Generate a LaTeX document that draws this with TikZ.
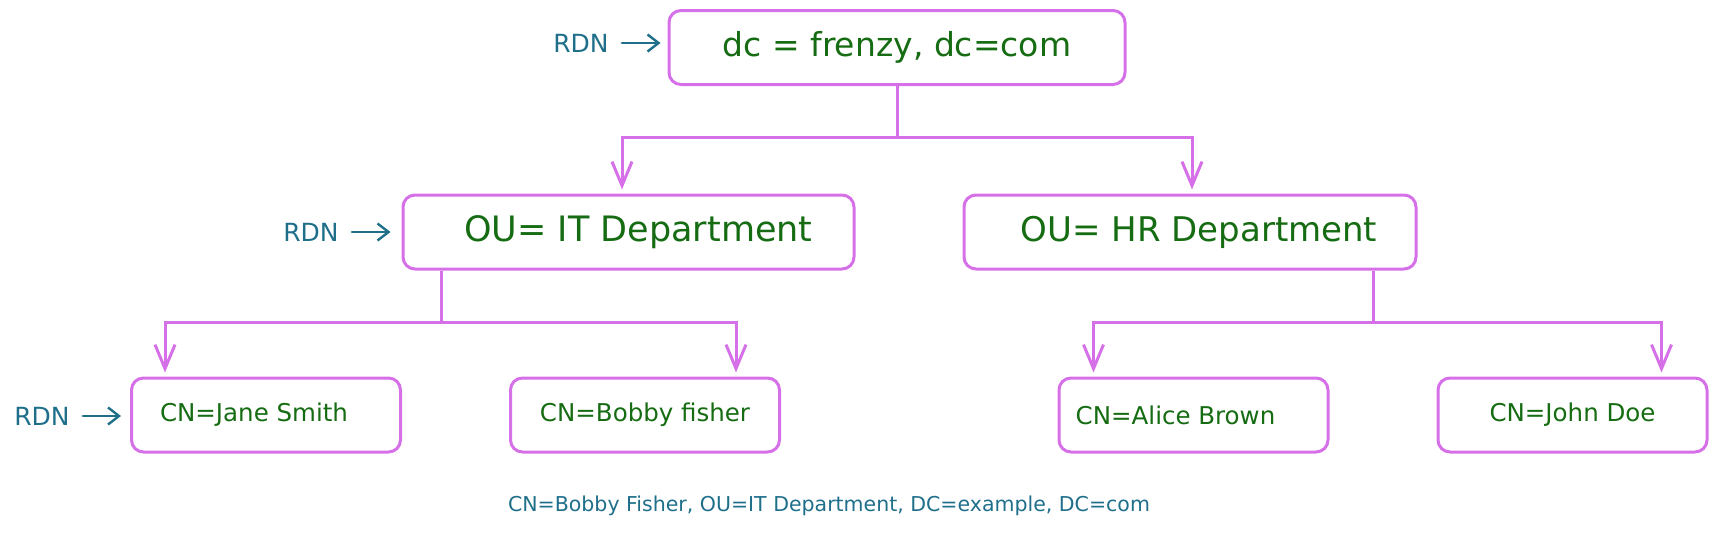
\documentclass[tikz,border=0pt]{standalone}
\usepackage{fontspec}
\setmainfont{DejaVu Sans}
\usetikzlibrary{arrows.meta}
\definecolor{vio}{RGB}{214,112,232}
\definecolor{grn}{RGB}{22,108,18}
\definecolor{blu}{RGB}{31,111,139}
\tikzset{
  box/.style={draw=vio, line width=3pt, rounded corners=12pt, text=grn, inner sep=0pt, fill=white},
  bigbox/.style={box, minimum height=74pt, font=\fontsize{34}{38}\selectfont},
  leafbox/.style={box, minimum width=269pt, minimum height=74pt, font=\fontsize{24.5}{28}\selectfont},
  rdn/.style={text=blu, inner sep=0pt, font=\fontsize{25}{28}\selectfont},
  rdnarrow/.style={draw=blu, line width=2.4pt, line cap=round, -{Straight Barb[length=11pt,width=17pt,line width=2.4pt]}},
  tree/.style={draw=vio, line width=3pt},
  treearrow/.style={tree, -{Straight Barb[length=24pt,width=20pt,line width=3pt]}, shorten >=4pt},
  note/.style={text=blu, inner sep=0pt, font=\fontsize{20.5}{24}\selectfont}
}
\begin{document}
\begin{tikzpicture}[x=1pt,y=-1pt]
\useasboundingbox (0,0) rectangle (1717,533);

% boxes
\node[bigbox, minimum width=456pt, font=\fontsize{33}{38}\selectfont] (root) at (897,47.5) {dc = frenzy, dc=com};
\node[bigbox, minimum width=451pt, font=\fontsize{35}{38}\selectfont] (it) at (628.5,232) {\hspace*{20pt}OU= IT Department};
\node[bigbox, minimum width=452pt] (hr) at (1190,232) {\hspace*{18pt}OU= HR Department};
\node[leafbox] (jane) at (266,415) {CN=Jane Smith\hspace*{24pt}};
\node[leafbox] (bobby) at (645,415) {CN=Bobby fisher};
\node[leafbox] (alice) at (1193.5,415) {CN=Alice Brown\hspace*{36pt}};
\node[leafbox] (john) at (1572.5,415) {CN=John Doe};

% RDN labels
\node[rdn] (r1) at (581,43) {RDN};
\node[rdn] (r2) at (311,232) {RDN};
\node[rdn] (r3) at (42,416) {RDN};
\draw[rdnarrow, shorten <=13pt, shorten >=7pt] (r1.east) -- (r1.east -| root.west);
\draw[rdnarrow, shorten <=13pt, shorten >=11pt] (r2.east) -- (r2.east -| it.west);
\draw[rdnarrow, shorten <=13pt, shorten >=9pt] (r3.east) -- (r3.east -| jane.west);

% tree connectors
\coordinate (b0) at (0,137);
\coordinate (b1) at (0,322);
\coordinate (s1) at ([xshift=40pt]it.south west);
\coordinate (s2) at ([xshift=-44pt]hr.south east);
\draw[tree] (root.south) -- (root.south |- b0);
\draw[treearrow] (root.south |- b0) -| ([xshift=-6.5pt]it.north);
\draw[treearrow] (root.south |- b0) -| ([xshift=2pt]hr.north);

\draw[tree] (s1) -- (s1 |- b1);
\draw[treearrow] (s1 |- b1) -| ([xshift=35pt]jane.north west);
\draw[treearrow] (s1 |- b1) -| ([xshift=227pt]bobby.north west);

\draw[tree] (s2) -- (s2 |- b1);
\draw[treearrow] (s2 |- b1) -| ([xshift=36pt]alice.north west);
\draw[treearrow] (s2 |- b1) -| ([xshift=225pt]john.north west);

% bottom note
\node[note] (dn) at (829,506) {CN=Bobby Fisher, OU=IT Department, DC=example, DC=com};
\end{tikzpicture}
\end{document}
